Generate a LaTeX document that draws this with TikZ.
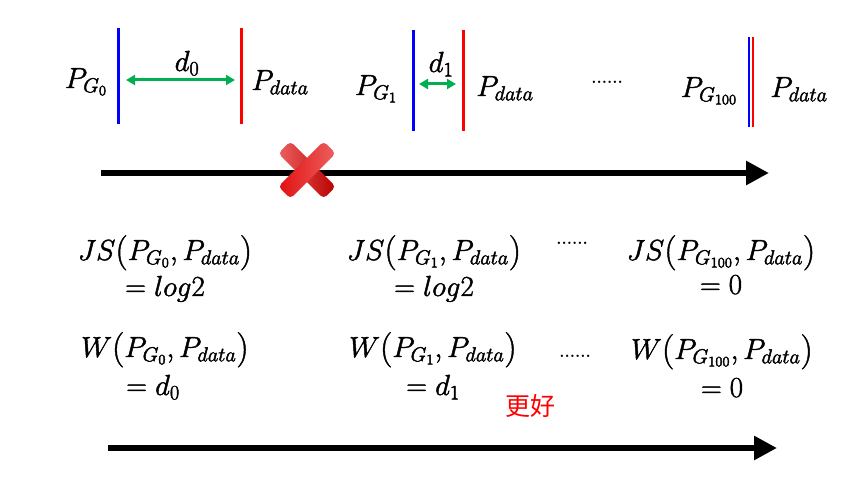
\RequirePackage{fix-cm}
\documentclass[tikz,border=0pt]{standalone}
\usepackage{amsmath}
\usepackage{fontspec}
\newfontfamily\cjk{Noto Sans CJK SC}
\usetikzlibrary{arrows.meta}
\definecolor{pgreen}{RGB}{0,176,80}
\definecolor{xred}{RGB}{226,16,16}
\definecolor{xdark}{RGB}{185,0,0}
\definecolor{xlight}{RGB}{236,96,96}
\newcommand{\sixdots}{.\kern-2pt.\kern-2pt.\kern-2pt.\kern-2pt.\kern-2pt.}
\newcommand{\bigL}{\mathopen{\raisebox{-1.5pt}{\fontsize{35}{40}\selectfont(}}}
\newcommand{\bigR}{\mathclose{\raisebox{-1.5pt}{\fontsize{35}{40}\selectfont)}}}
\newcommand{\heavyon}{\special{pdf:literal direct 2 Tr 0.45 w}}
\newcommand{\heavyoff}{\special{pdf:literal direct 0 Tr}}
\begin{document}
\begin{tikzpicture}[x=1pt,y=-1pt,
  lbl/.style={inner sep=0pt,anchor=base,font=\fontsize{29}{34}\selectfont,
    execute at begin node=\heavyon, execute at end node=\heavyoff},
  dots/.style={inner sep=0pt,font=\fontsize{29}{30}\selectfont},
  bluebar/.style={draw=blue,line width=3pt},
  redbar/.style={draw=red,line width=3pt},
  dist/.style={draw=pgreen,line width=3pt,{Triangle[length=9pt,width=10pt]}-{Triangle[length=9pt,width=10pt]}},
  timeline/.style={draw=black,line width=6.5pt,-{Triangle[length=23pt,width=23pt]}},
  xarm/.style={rectangle,rounded corners=4pt,minimum width=64pt,minimum height=17pt,inner sep=0pt}]
\useasboundingbox (0,0) rectangle (862,494);

% --- top row: distributions ---
\coordinate (b0t) at (118,28); \coordinate (b0b) at (118,124);
\coordinate (r0t) at (241,28); \coordinate (r0b) at (241,124);
\draw[bluebar] (b0t) -- (b0b);
\draw[redbar] (r0t) -- (r0b);
\node[lbl] (pg0) at (86,88) {$P_{G_0}$};
\node[lbl] (pd0) at (280,90) {$P_{data}$};
\coordinate (a0l) at (126,80); \coordinate (a0r) at (235,80);
\draw[dist] (a0l) -- (a0r);
\node[lbl] (d0) at (187,71) {$d_0$};

\coordinate (b1t) at (413,30); \coordinate (b1b) at (413,131);
\coordinate (r1t) at (463,30); \coordinate (r1b) at (463,131);
\draw[bluebar] (b1t) -- (b1b);
\draw[redbar] (r1t) -- (r1b);
\node[lbl] (pg1) at (376,95) {$P_{G_1}$};
\node[lbl] (pd1) at (505,96) {$P_{data}$};
\coordinate (a1l) at (419,84); \coordinate (a1r) at (456,84);
\draw[dist] (a1l) -- (a1r);
\node[lbl] (d1) at (441,72) {$d_1$};

\node[dots] (dt0) at (607,82) {\sixdots};

\coordinate (b2t) at (749,37); \coordinate (b2b) at (749,127);
\coordinate (r2t) at (753,37); \coordinate (r2b) at (753,127);
\draw[draw=blue,line width=2.5pt] (b2t) -- (b2b);
\draw[draw=red,line width=2.5pt] (r2t) -- (r2b);
\node[lbl] (pg2) at (709,97) {$P_{G_{100}}$};
\node[lbl] (pd2) at (799,97) {$P_{data}$};

% --- first timeline with cross ---
\coordinate (t1s) at (101,173); \coordinate (t1e) at (769,173);
\draw[timeline] (t1s) -- (t1e);
\node[xarm,rotate=-45,left color=xlight,right color=xdark] (xa) at (307,170) {};
\node[xarm,rotate=45,left color=xred,right color=xlight] (xb) at (307,170) {};

% --- JS row ---
\node[lbl] (js0) at (165,260) {$JS\bigL P_{G_0},P_{data}\bigR$};
\node[lbl] (js0v) at (165,296) {$=log2$};
\node[lbl] (js1) at (434,260) {$JS\bigL P_{G_1},P_{data}\bigR$};
\node[lbl] (js1v) at (434,296) {$=log2$};
\node[dots] (dt1) at (572,243) {\sixdots};
\node[lbl] (js2) at (721,260) {$JS\bigL P_{G_{100}},P_{data}\bigR$};
\node[lbl] (js2v) at (721,294) {$=0$};

% --- W row ---
\node[lbl] (w0) at (165,357) {$W\bigL P_{G_0},P_{data}\bigR$};
\node[lbl] (w0v) at (153,395) {$=d_0$};
\node[lbl] (w1) at (433,357) {$W\bigL P_{G_1},P_{data}\bigR$};
\node[lbl] (w1v) at (433,395) {$=d_1$};
\node[dots] (dt2) at (575,356) {\sixdots};
\node[lbl] (w2) at (722,359) {$W\bigL P_{G_{100}},P_{data}\bigR$};
\node[lbl] (w2v) at (722,397) {$=0$};

\node[inner sep=0pt,text=red,font=\cjk\fontsize{25}{28}\selectfont] (better) at (530,406) {更好};

% --- second timeline ---
\coordinate (t2s) at (108,448); \coordinate (t2e) at (777,448);
\draw[timeline] (t2s) -- (t2e);
\end{tikzpicture}
\end{document}
